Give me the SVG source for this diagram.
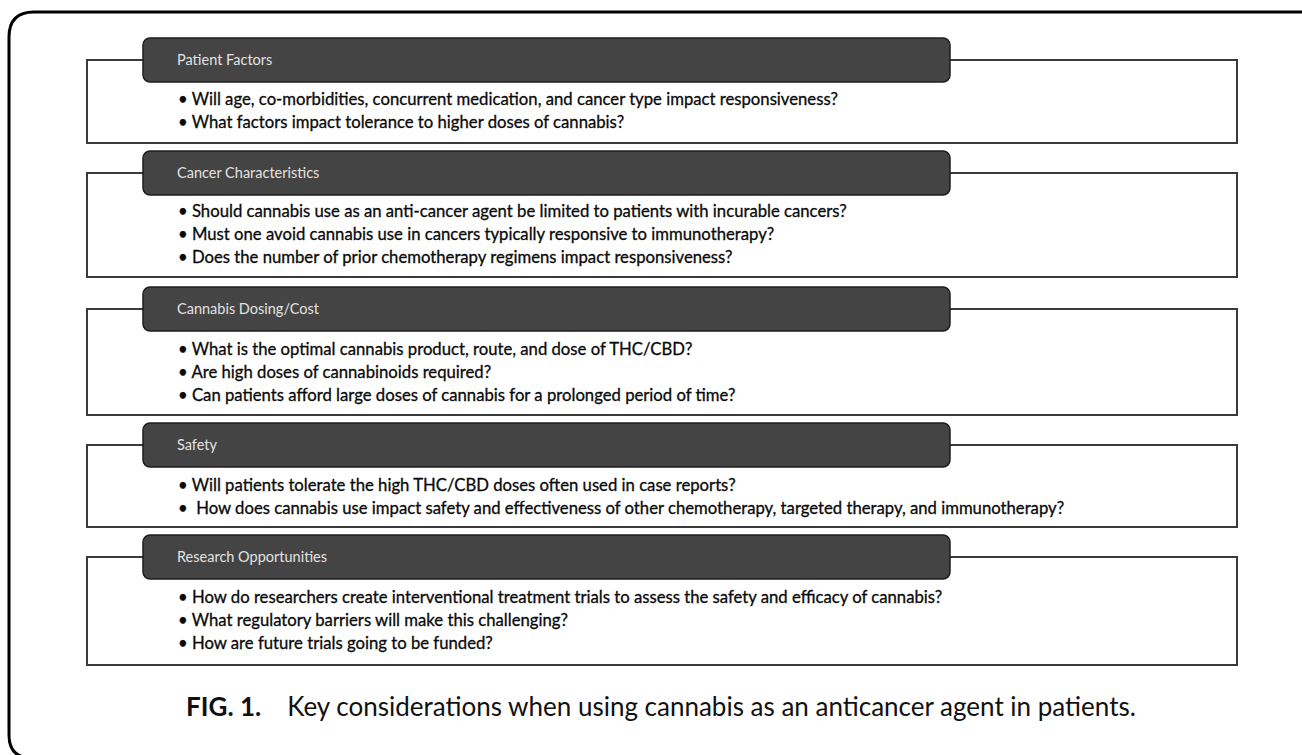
<svg xmlns="http://www.w3.org/2000/svg" width="1302" height="755" viewBox="0 0 1302 755">
<style>
.frame{fill:none;stroke:#000;stroke-width:3}
.box{fill:#fff;stroke:#3a3a3a;stroke-width:2}
.hdr{fill:#444;stroke:#1e1e1e;stroke-width:1.5}
.htxt{font-family:Lato,"Open Sans","Liberation Sans",sans-serif;font-size:14.5px;fill:#e2e2e2}
.btxt{font-family:Lato,"Open Sans","Liberation Sans",sans-serif;font-size:16.7px;fill:#0a0a0a;stroke:#0a0a0a;stroke-width:0.3}
.cap{font-family:Lato,"Open Sans","Liberation Sans",sans-serif;font-size:26px;fill:#111}
</style>
<rect width="1302" height="755" fill="#fff"/>
<path class="frame" d="M1306,12 H34 Q9,12 9,37 V735 Q9,758 32,758"/>

<g id="patient-factors">
<rect class="box" x="87" y="60" width="1150" height="83"/>
<rect class="hdr" x="143" y="38" width="807" height="44" rx="7"/>
<text class="htxt" x="177" y="65">Patient Factors</text>
<text class="btxt" x="178" y="105">• Will age, co-morbidities, concurrent medication, and cancer type impact responsiveness?</text>
<text class="btxt" x="178" y="128">• What factors impact tolerance to higher doses of cannabis?</text>
</g>

<g id="cancer-characteristics">
<rect class="box" x="87" y="173" width="1150" height="104"/>
<rect class="hdr" x="143" y="151" width="807" height="44" rx="7"/>
<text class="htxt" x="177" y="178">Cancer Characteristics</text>
<text class="btxt" x="178" y="217">• Should cannabis use as an anti-cancer agent be limited to patients with incurable cancers?</text>
<text class="btxt" x="178" y="240">• Must one avoid cannabis use in cancers typically responsive to immunotherapy?</text>
<text class="btxt" x="178" y="263">• Does the number of prior chemotherapy regimens impact responsiveness?</text>
</g>

<g id="cannabis-dosing-cost">
<rect class="box" x="87" y="309" width="1150" height="106"/>
<rect class="hdr" x="143" y="287" width="807" height="44" rx="7"/>
<text class="htxt" x="177" y="314">Cannabis Dosing/Cost</text>
<text class="btxt" x="178" y="355">• What is the optimal cannabis product, route, and dose of THC/CBD?</text>
<text class="btxt" x="178" y="378">• Are high doses of cannabinoids required?</text>
<text class="btxt" x="178" y="401">• Can patients afford large doses of cannabis for a prolonged period of time?</text>
</g>

<g id="safety">
<rect class="box" x="87" y="445" width="1150" height="82"/>
<rect class="hdr" x="143" y="423" width="807" height="44" rx="7"/>
<text class="htxt" x="177" y="450">Safety</text>
<text class="btxt" x="178" y="491">• Will patients tolerate the high THC/CBD doses often used in case reports?</text>
<text class="btxt" x="178" y="514" xml:space="preserve">•  How does cannabis use impact safety and effectiveness of other chemotherapy, targeted therapy, and immunotherapy?</text>
</g>

<g id="research-opportunities">
<rect class="box" x="87" y="557" width="1150" height="108"/>
<rect class="hdr" x="143" y="535" width="807" height="44" rx="7"/>
<text class="htxt" x="177" y="562">Research Opportunities</text>
<text class="btxt" x="178" y="603">• How do researchers create interventional treatment trials to assess the safety and efficacy of cannabis?</text>
<text class="btxt" x="178" y="626">• What regulatory barriers will make this challenging?</text>
<text class="btxt" x="178" y="649">• How are future trials going to be funded?</text>
</g>

<g id="caption">
<text class="cap" x="661" y="716" text-anchor="middle"><tspan font-weight="bold">FIG. 1.</tspan><tspan dx="26">Key considerations when using cannabis as an anticancer agent in patients.</tspan></text>
</g>
</svg>
